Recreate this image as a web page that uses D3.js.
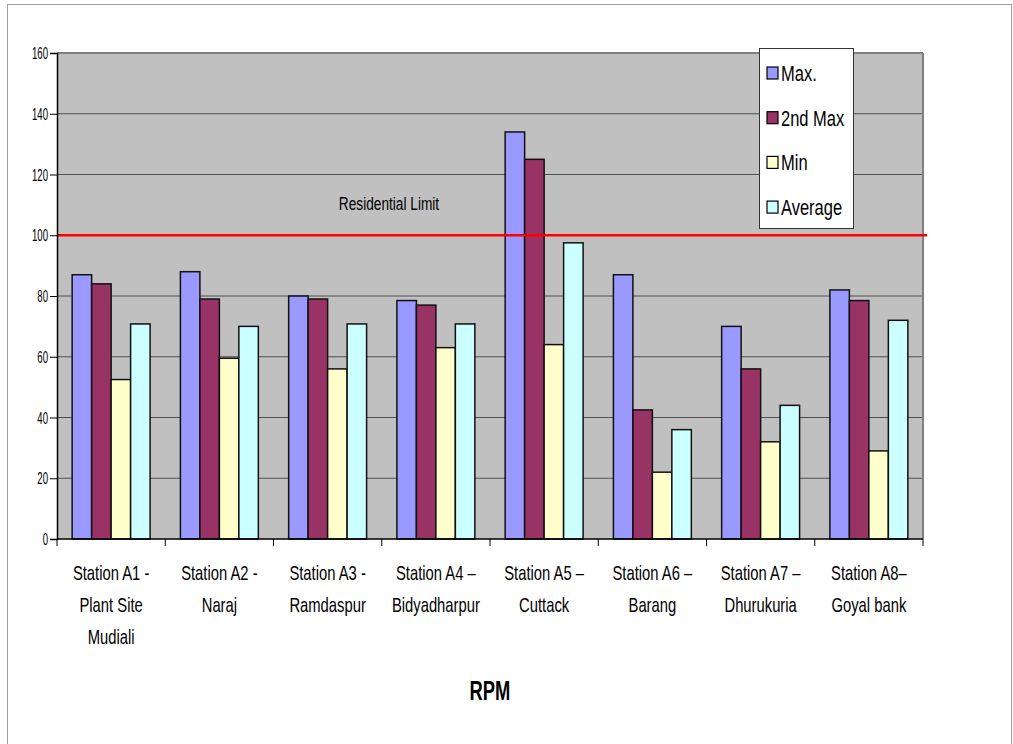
<!DOCTYPE html>
<html>
<head>
<meta charset="utf-8">
<script src="https://cdn.jsdelivr.net/npm/d3@7"></script>
<style>
  body { margin: 0; background: #fff; }
  svg { display: block; font-family: "Liberation Sans", Arial, sans-serif; }
</style>
</head>
<body>
<svg id="chart" width="1013" height="744"></svg>
<script>
// station names, split into label lines
const stations = [
  ['Station A1 -', 'Plant Site', 'Mudiali'],
  ['Station A2 -', 'Naraj'],
  ['Station A3 -', 'Ramdaspur'],
  ['Station A4 \u2013', 'Bidyadharpur'],
  ['Station A5 \u2013', 'Cuttack'],
  ['Station A6 \u2013', 'Barang'],
  ['Station A7 \u2013', 'Dhurukuria'],
  ['Station A8\u2013', 'Goyal bank']
];
const seriesNames = ['Max.', '2nd Max', 'Min', 'Average'];
const maxVals = [87, 88, 80, 78.5, 134, 87, 70, 82];
const secondMaxVals = [84, 79, 79, 77, 125, 42.5, 56, 78.5];
const minVals = [52.5, 59.5, 56, 63, 64, 22, 32, 29];
const avgVals = [70.8, 70, 70.8, 70.8, 97.5, 36, 44, 72];
const yTicks = [0, 20, 40, 60, 80, 100, 120, 140, 160];
const residentialLimit = 100;

const colors = ['#9999ff', '#993366', '#ffffcc', '#ccffff'];
const series = [maxVals, secondMaxVals, minVals, avgVals];

const svg = d3.select('#chart');
const plot = { left: 57, top: 53, right: 923, bottom: 539 };

// outer frame
svg.append('rect')
  .attr('x', 7.5).attr('y', 4.5)
  .attr('width', 1004).attr('height', 800)
  .attr('fill', 'none').attr('stroke', '#a0a0a0');

const x0 = d3.scaleBand()
  .domain(d3.range(stations.length))
  .range([plot.left, plot.right])
  .paddingInner(0.28).paddingOuter(0.14);
const x1 = d3.scaleBand()
  .domain(d3.range(seriesNames.length))
  .range([0, x0.bandwidth()]);
const y = d3.scaleLinear().domain([0, 160]).range([plot.bottom, plot.top]);

// plot background
svg.append('rect')
  .attr('x', plot.left).attr('y', plot.top)
  .attr('width', plot.right - plot.left).attr('height', plot.bottom - plot.top)
  .attr('fill', '#c0c0c0');

// gridlines
svg.append('g').selectAll('line')
  .data(yTicks.filter(d => d > 0))
  .join('line')
  .attr('x1', plot.left).attr('x2', plot.right)
  .attr('y1', d => y(d)).attr('y2', d => y(d))
  .attr('stroke', d => d === 160 ? '#808080' : '#505050')
  .attr('stroke-width', d => d === 160 ? 2 : 1);

// right border
svg.append('line')
  .attr('x1', plot.right).attr('x2', plot.right)
  .attr('y1', plot.top).attr('y2', plot.bottom)
  .attr('stroke', '#808080').attr('stroke-width', 2);

// bars
const groups = svg.append('g').selectAll('g')
  .data(stations)
  .join('g')
  .attr('transform', (d, i) => `translate(${x0(i)},0)`);
groups.selectAll('rect')
  .data((d, i) => series.map((s, k) => ({ k, v: s[i] })))
  .join('rect')
  .attr('x', d => x1(d.k))
  .attr('y', d => y(d.v))
  .attr('width', x1.bandwidth())
  .attr('height', d => y(0) - y(d.v))
  .attr('fill', d => colors[d.k])
  .attr('stroke', '#111')
  .attr('stroke-width', 1.5);

// residential limit line
svg.append('line')
  .attr('x1', plot.left).attr('x2', plot.right + 4)
  .attr('y1', y(residentialLimit)).attr('y2', y(residentialLimit))
  .attr('stroke', '#ff0000').attr('stroke-width', 2.5);

// condensed text helper
function label(parent, txt, x, yy, size, sx, anchor, weight) {
  return parent.append('text')
    .attr('transform', `translate(${x},${yy}) scale(${sx},1)`)
    .attr('font-size', size)
    .attr('font-weight', weight || 'normal')
    .attr('text-anchor', anchor || 'middle')
    .attr('fill', '#000')
    .text(txt);
}

label(svg, 'Residential Limit', 389, 210, 19, 0.72);

// y axis
const yAxis = svg.append('g')
  .attr('transform', `translate(${plot.left},0)`)
  .call(d3.axisLeft(y).tickValues(yTicks).tickSize(7).tickFormat(''));
yAxis.select('.domain').attr('stroke', '#000').attr('stroke-width', 1.5);
yAxis.selectAll('.tick line').attr('stroke', '#000');
yTicks.forEach(t => label(svg, t, 48, y(t) + 6, 16, 0.6, 'end'));

// x axis with ticks at band boundaries
const xAxis = svg.append('g');
xAxis.append('line')
  .attr('x1', plot.left).attr('x2', plot.right)
  .attr('y1', plot.bottom).attr('y2', plot.bottom)
  .attr('stroke', '#000').attr('stroke-width', 1.5);
const step = x0.step();
xAxis.selectAll('.tk')
  .data(d3.range(stations.length + 1))
  .join('line')
  .attr('x1', i => plot.left + i * step).attr('x2', i => plot.left + i * step)
  .attr('y1', plot.bottom).attr('y2', plot.bottom + 7)
  .attr('stroke', '#000');

stations.forEach((lines, i) => {
  const cx = x0(i) + x0.bandwidth() / 2;
  lines.forEach((ln, j) => label(svg, ln, cx, 580 + j * 32, 20, 0.74));
});

label(svg, 'RPM', 490, 700, 27, 0.68, 'middle', 'bold');

// legend
const lg = svg.append('g');
lg.append('rect')
  .attr('x', 759.5).attr('y', 48.5)
  .attr('width', 94).attr('height', 180)
  .attr('fill', '#fff').attr('stroke', '#333');
seriesNames.forEach((name, k) => {
  const cy = 73 + k * 44.7;
  lg.append('rect')
    .attr('x', 767).attr('y', cy - 6)
    .attr('width', 11).attr('height', 12)
    .attr('fill', colors[k]).attr('stroke', '#000').attr('stroke-width', 1.2);
  label(lg, name, 781, cy + 8, 22, 0.75, 'start');
});
</script>
</body>
</html>
